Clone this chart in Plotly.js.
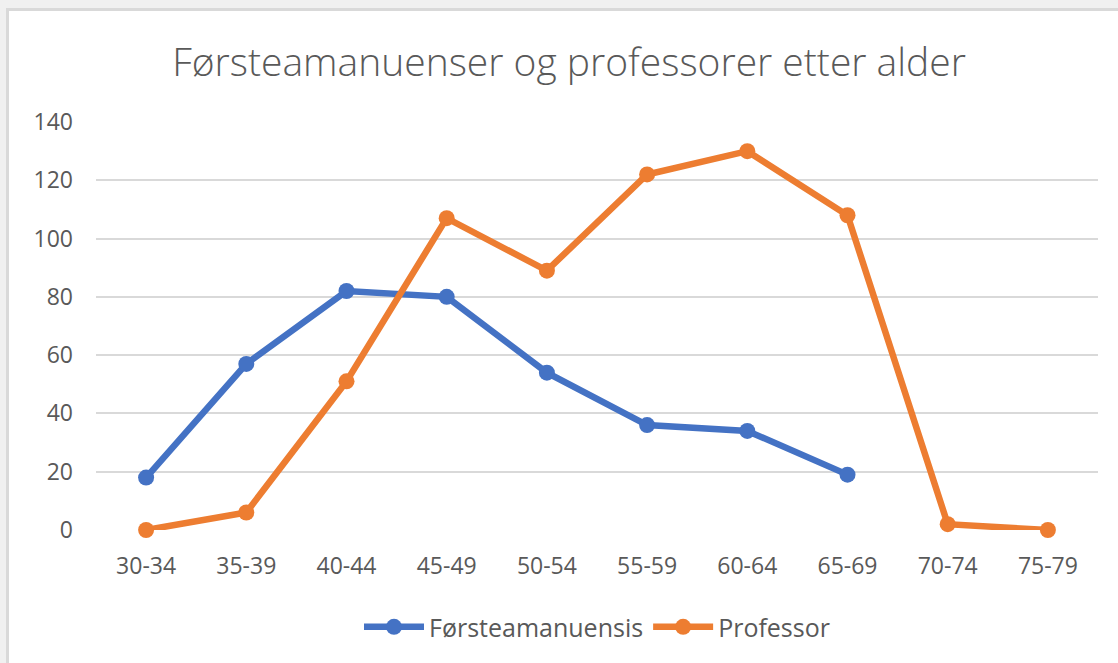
<!DOCTYPE html>
<html>
<head>
<meta charset="utf-8">
<script src="https://cdn.plot.ly/plotly-3.0.1.min.js"></script>
<style>
html,body{margin:0;padding:0;background:#f0f0f0;overflow:hidden;}
#wrap{position:absolute;left:6px;top:8px;border-left:3px solid #d9d9d9;border-top:3px solid #d9d9d9;background:#fff;}
#chart{width:1109px;height:652px;}
</style>
</head>
<body>
<div id="wrap"><div id="chart"></div></div>
<script>
var categories = ["30-34","35-39","40-44","45-49","50-54","55-59","60-64","65-69","70-74","75-79"];
var forsteamanuensis = [18, 57, 82, 80, 54, 36, 34, 19, null, null];
var professor = [0, 6, 51, 107, 89, 122, 130, 108, 2, 0];
var seriesNames = ["Førsteamanuensis", "Professor"];
var yTicks = [0, 20, 40, 60, 80, 100, 120, 140];

var font = "Open Sans, Noto Sans, sans-serif";
var traces = [
  {x: categories, y: forsteamanuensis, name: seriesNames[0], type: "scatter", mode: "lines+markers",
   line: {color: "#4472C4", width: 6.5}, marker: {color: "#4472C4", size: 16}, cliponaxis: false},
  {x: categories, y: professor, name: seriesNames[1], type: "scatter", mode: "lines+markers",
   line: {color: "#ED7D31", width: 6.5}, marker: {color: "#ED7D31", size: 16}, cliponaxis: false}
];
var layout = {
  width: 1109, height: 652,
  margin: {l: 87, r: 20, t: 111, b: 133},
  paper_bgcolor: "#ffffff", plot_bgcolor: "#ffffff",
  title: {text: "Førsteamanuenser og professorer etter alder", x: 0.505, xanchor: "center", y: 0.922, yanchor: "middle",
          font: {family: font, size: 39, color: "#595959", weight: 300}},
  xaxis: {type: "category", categoryorder: "array", categoryarray: categories, range: [-0.5, 9.5],
          showgrid: false, zeroline: false, showline: false, ticks: "",
          tickfont: {family: font, size: 23, color: "#595959"}, ticklabelstandoff: 20},
  yaxis: {range: [0, 140], tickvals: yTicks, ticktext: yTicks.map(String), showgrid: true,
          gridcolor: "#d9d9d9", gridwidth: 2, zeroline: false, showline: false, ticks: "",
          tickfont: {family: font, size: 23, color: "#595959"}, ticklabelstandoff: 22},
  showlegend: true,
  legend: {orientation: "h", x: 0.5, xanchor: "center", y: -0.238, yanchor: "middle",
           font: {family: font, size: 25, color: "#595959"}, itemwidth: 60, tracegroupgap: 0}
};
Plotly.newPlot("chart", traces, layout, {displayModeBar: false});
</script>
</body>
</html>
